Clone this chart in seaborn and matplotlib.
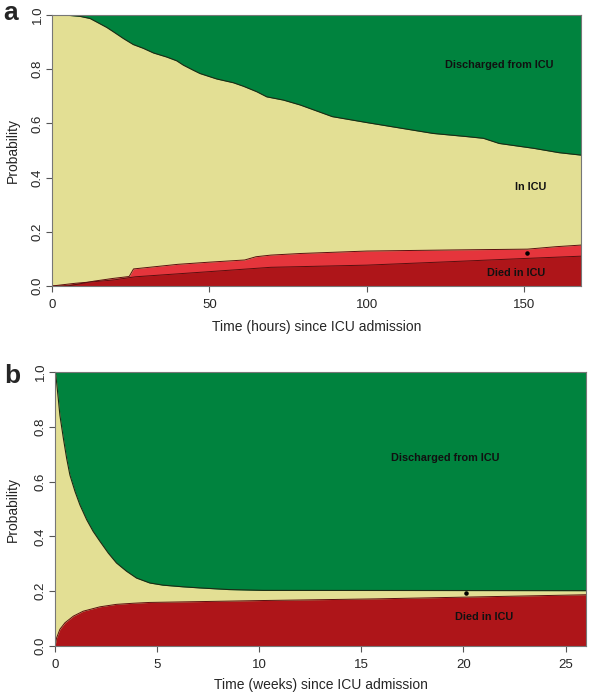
import matplotlib
matplotlib.use("Agg")
import matplotlib.pyplot as plt
import numpy as np
import pandas as pd
import seaborn as sns

# panel a: hours since admission, stacked probabilities (upper edge of each band)
a_in_icu_t = [0, 4, 8.9, 12.1, 14.2, 17.4, 19.5, 22.7, 25.8, 29, 32.2, 36.4,
              39.6, 41.7, 44.9, 47, 52.3, 57.6, 60.8, 65, 68.2, 73.5, 78.8,
              89, 100, 111, 121, 132, 137, 142, 153, 161, 168]
a_in_icu_p = [1.0, 1.0, 0.995, 0.987, 0.974, 0.954, 0.938, 0.913, 0.891,
              0.877, 0.860, 0.845, 0.831, 0.815, 0.796, 0.784, 0.764, 0.750,
              0.737, 0.717, 0.698, 0.686, 0.668, 0.625, 0.603, 0.582, 0.563,
              0.551, 0.545, 0.526, 0.508, 0.492, 0.483]
a_light_t = [0, 5, 13.4, 19.4, 24.5, 25.9, 40, 50, 61.2, 64.8, 69.5, 79, 100,
             127, 151, 160, 168]
a_light_p = [0, 0.0, 0.018, 0.028, 0.035, 0.063, 0.08, 0.088, 0.096, 0.108,
             0.114, 0.12, 0.129, 0.133, 0.136, 0.145, 0.151]
a_died_t = [0, 7.4, 19.4, 26.5, 50, 69.5, 100, 127, 151, 168]
a_died_p = [0, 0.01, 0.022, 0.034, 0.053, 0.069, 0.077, 0.09, 0.102, 0.110]

# panel b: weeks since admission
b_in_icu_t = [0, 0.04, 0.16, 0.24, 0.41, 0.57, 0.73, 0.98, 1.22, 1.55, 1.87,
              2.2, 2.61, 3.01, 3.5, 3.99, 4.64, 5.29, 6.27, 7.08, 8.5, 10.2, 26]
b_in_icu_p = [1.0, 0.99, 0.903, 0.842, 0.758, 0.685, 0.624, 0.564, 0.515,
              0.461, 0.418, 0.382, 0.339, 0.303, 0.273, 0.248, 0.230, 0.222,
              0.216, 0.212, 0.206, 0.203, 0.202]
b_died_t = [0, 0.08, 0.24, 0.49, 0.9, 1.38, 2.2, 3.01, 3.83, 4.64, 7.08, 10.2,
            15.7, 21.2, 26]
b_died_p = [0, 0.03, 0.061, 0.085, 0.109, 0.127, 0.143, 0.152, 0.156, 0.159,
            0.162, 0.166, 0.172, 0.180, 0.187]

y_ticks = [0.0, 0.2, 0.4, 0.6, 0.8, 1.0]
a_x_ticks = [0, 50, 100, 150]
b_x_ticks = [0, 5, 10, 15, 20, 25]

GREEN = "#00833e"
YELLOW = "#e3df94"
LIGHT_RED = "#e5353c"
DARK_RED = "#ae1519"

sns.set_style("white")
plt.rcParams["font.family"] = ["Liberation Sans", "DejaVu Sans"]

fig = plt.figure(figsize=(5.92, 6.97), dpi=100)


def style_axes(ax, xmax, xticks, xlabel, lab_x, lab_y):
    ax.set_xlim(0, xmax)
    ax.set_ylim(0, 1)
    ax.set_xticks(xticks)
    ax.set_yticks(y_ticks)
    ax.set_yticklabels([f"{v:.1f}" for v in y_ticks], rotation=90, va="center")
    ax.tick_params(direction="out", length=4, width=0.8, color="#555555",
                   labelsize=9.5, pad=5, bottom=True, left=True)
    ax.tick_params(axis="y", pad=2)
    for s in ax.spines.values():
        s.set_color("#777777")
        s.set_linewidth(0.8)
    ax.set_xlabel(xlabel, fontsize=10)
    ax.set_ylabel("Probability", fontsize=10)
    ax.xaxis.set_label_coords(0.5, lab_x)
    ax.yaxis.set_label_coords(lab_y, 0.5)
    ax.set_facecolor(GREEN)


# panel a
ax1 = fig.add_axes([52 / 592, 1 - 286 / 697, 529 / 592, 271 / 697])
ax1.fill_between(a_in_icu_t, 0, a_in_icu_p, color=YELLOW, lw=0)
ax1.fill_between(a_light_t, 0, a_light_p, color=LIGHT_RED, lw=0)
ax1.fill_between(a_died_t, 0, a_died_p, color=DARK_RED, lw=0)
sns.lineplot(x=a_in_icu_t, y=a_in_icu_p, ax=ax1, color="#1c2a14", lw=0.8)
sns.lineplot(x=a_light_t, y=a_light_p, ax=ax1, color="#5a0e0e", lw=0.7)
sns.lineplot(x=a_died_t, y=a_died_p, ax=ax1, color="#5a0e0e", lw=0.7)
ax1.scatter([151], [0.123], s=5, color="black", zorder=5)
style_axes(ax1, 168, a_x_ticks, "Time (hours) since ICU admission",
           -0.127, -0.060)
lab = dict(fontsize=7.8, fontweight="bold", color="#111111",
           ha="center", va="center")
ax1.text(142, 0.815, "Discharged from ICU", **lab)
ax1.text(152, 0.365, "In ICU", **lab)
ax1.text(147.5, 0.048, "Died in ICU", **lab)

# panel b
ax2 = fig.add_axes([55 / 592, 1 - 646 / 697, 531 / 592, 274 / 697])
ax2.fill_between(b_in_icu_t, 0, b_in_icu_p, color=YELLOW, lw=0)
ax2.fill_between(b_died_t, 0, b_died_p, color=DARK_RED, lw=0)
sns.lineplot(x=b_in_icu_t, y=b_in_icu_p, ax=ax2, color="#1c2a14", lw=0.8)
sns.lineplot(x=b_died_t, y=b_died_p, ax=ax2, color="#5a0e0e", lw=0.7)
ax2.scatter([20.1], [0.195], s=5, color="black", zorder=5)
style_axes(ax2, 26, b_x_ticks, "Time (weeks) since ICU admission",
           -0.117, -0.066)
ax2.text(19.1, 0.686, "Discharged from ICU", **lab)
ax2.text(21.0, 0.107, "Died in ICU", **lab)

fig.text(3 / 592, 1 - 20 / 697, "a", fontsize=19, fontweight="bold",
         va="baseline")
fig.text(4 / 592, 1 - 383 / 697, "b", fontsize=19, fontweight="bold",
         va="baseline")

fig.savefig("out.png", dpi=100)
